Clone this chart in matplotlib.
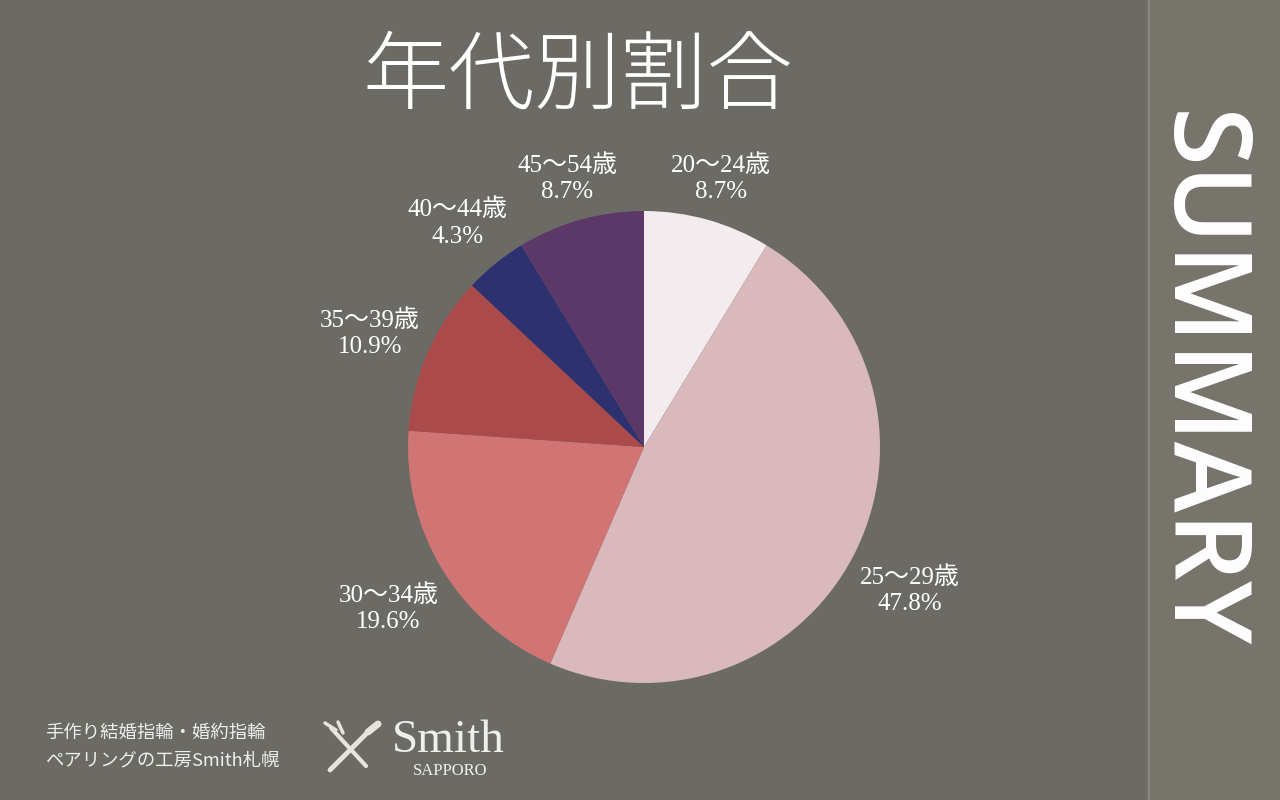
import matplotlib
matplotlib.use("Agg")
import matplotlib.pyplot as plt
import numpy as np

# ---- data ----
categories = ["20～24歳", "25～29歳", "30～34歳", "35～39歳", "40～44歳", "45～54歳"]
shares = [8.7, 47.8, 19.6, 10.9, 4.3, 8.7]
colors = ["#f3ecee", "#d9b9bb", "#d07574", "#ab4a4a", "#2e3170", "#5c3868"]
title = "年代別割合"
side_label = "SUMMARY"
footer_lines = ["手作り結婚指輪・婚約指輪", "ペアリングの工房Smith札幌"]
brand = "Smith"
brand_sub = "SAPPORO"

BG = "#6b6a65"
PANEL = "#76746b"

W, H = 1280, 800
fig = plt.figure(figsize=(W / 100, H / 100), dpi=100, facecolor=BG)
ax = fig.add_axes([0, 0, 1, 1])
ax.set_facecolor(BG)

# right panel
ax.add_patch(plt.Rectangle((1147, 0), W - 1147, H, facecolor=PANEL, edgecolor="none", zorder=0))
ax.plot([1148.5, 1148.5], [0, H], color="#8e8c84", lw=1.2, zorder=1)

# pie
cx, cy, R = 644, H - 447, 236
wedges, _ = ax.pie(shares, colors=colors, startangle=90, counterclock=False,
                   center=(cx, cy), radius=R, wedgeprops=dict(linewidth=0))

label_fam = ["Liberation Serif", "Noto Sans CJK JP"]
hw, hh = 46, 28
total = sum(shares)
cum = 0.0
for cat, v in zip(categories, shares):
    mid = np.deg2rad(90 - (cum + v / 2) / total * 360)
    cum += v
    d = R * 1.04 + abs(hw * np.cos(mid)) + abs(hh * np.sin(mid))
    tx, ty = cx + d * np.cos(mid), cy + d * np.sin(mid) - 6
    ax.text(tx, ty, f"{cat}\n{v:.1f}%", ha="center", va="center", color="white",
            fontsize=18, family=label_fam, linespacing=1.25, zorder=5)

# title
ax.text(578, H - 78, title, ha="center", va="center", color="white",
        fontsize=62, family=["Noto Sans CJK JP"], fontweight="light")

# side label
ax.text(1197, H - 380, side_label, ha="center", va="center", color="white",
        fontsize=77, family=["Open Sans", "Roboto", "DejaVu Sans"], fontweight="semibold",
        rotation=-90)

# footer
ax.text(45, H - 733, footer_lines[0], ha="left", va="center", color="#eeeeea",
        fontsize=13.2, family=["Noto Sans CJK JP"])
ax.text(45, H - 760, footer_lines[1], ha="left", va="center", color="#eeeeea",
        fontsize=13.2, family=["Noto Sans CJK JP"])

# logo icon (crossed tools)
ic = "#e6e4df"
ax.plot([330, 372], [H - 770, H - 728], color=ic, lw=3.5, solid_capstyle="round")
ax.plot([331, 366], [H - 728, H - 766], color=ic, lw=3.0, solid_capstyle="round")
ax.plot([325, 336], [H - 723, H - 730], color=ic, lw=2.5, solid_capstyle="round")
ax.plot([338, 343], [H - 722, H - 733], color=ic, lw=2.5, solid_capstyle="round")
ax.plot([368, 378], [H - 732, H - 724], color=ic, lw=5, solid_capstyle="round")

ax.text(448, H - 741, brand, ha="center", va="center", color="#eeeeea",
        fontsize=34, family=["Liberation Serif"])
ax.text(450, H - 771, brand_sub, ha="center", va="center", color="#eeeeea",
        fontsize=12, family=["Liberation Serif"])

ax.set_xlim(0, W)
ax.set_ylim(0, H)
ax.set_aspect("auto")
ax.axis("off")

fig.savefig("out.png", dpi=100, facecolor=BG)
